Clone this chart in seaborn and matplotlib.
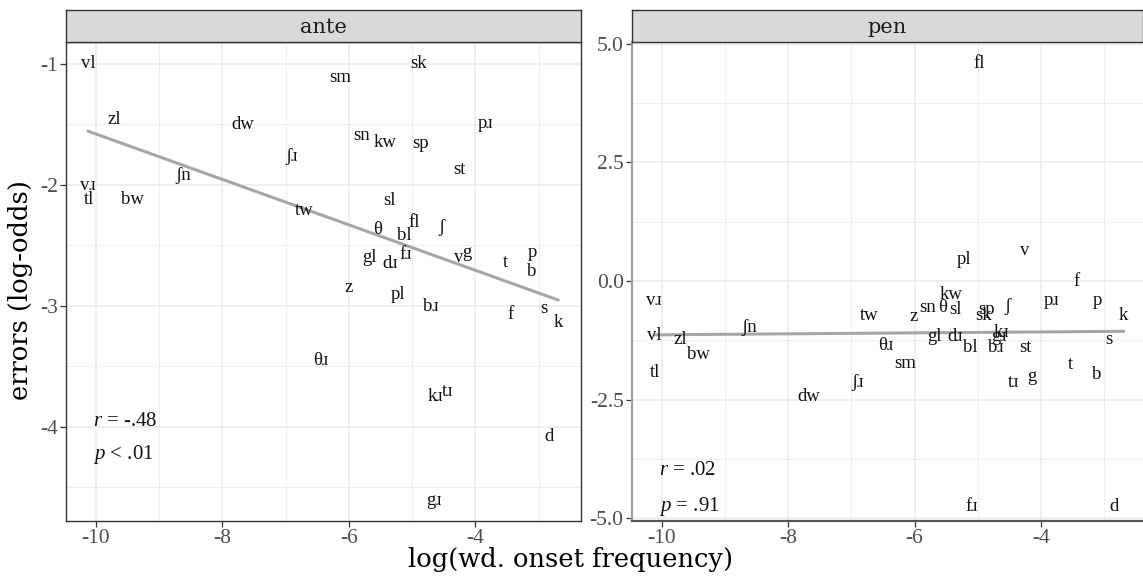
import matplotlib
matplotlib.use("Agg")
import matplotlib.pyplot as plt
from matplotlib.ticker import MultipleLocator, FixedLocator
import numpy as np
import pandas as pd
import seaborn as sns

# Onset clusters with log word-onset frequency and error rates (log-odds)
onsets = ["vl", "vɹ", "tl", "zl", "bw", "ʃn", "dw", "ʃɹ", "tw", "θɹ",
          "sm", "z", "sn", "gl", "θ", "kw", "dɹ", "sl", "pl", "bl",
          "fɹ", "fl", "sk", "sp", "bɹ", "gɹ", "kɹ", "ʃ", "tɹ", "v",
          "st", "g", "pɹ", "t", "f", "p", "b", "s", "d", "k"]
log_freq = [-10.12, -10.12, -10.10, -9.70, -9.42, -8.62, -7.67, -6.90, -6.71, -6.45,
            -6.14, -6.01, -5.80, -5.68, -5.55, -5.42, -5.35, -5.35, -5.22, -5.12,
            -5.10, -4.97, -4.90, -4.86, -4.71, -4.66, -4.63, -4.53, -4.44, -4.26,
            -4.25, -4.14, -3.84, -3.53, -3.44, -3.10, -3.11, -2.92, -2.84, -2.69]
ante_err = [-1.00, -2.01, -2.12, -1.46, -2.12, -1.92, -1.50, -1.77, -2.21, -3.45,
            -1.11, -2.85, -1.59, -2.60, -2.37, -1.65, -2.65, -2.13, -2.91, -2.42,
            -2.58, -2.31, -1.00, -1.66, -3.01, -4.61, -3.75, -2.35, -3.71, -2.60,
            -1.87, -2.56, -1.49, -2.64, -3.07, -2.56, -2.72, -3.02, -4.08, -3.14]
pen_err = [-1.14, -0.42, -1.92, -1.24, -1.54, -0.97, -2.44, -2.15, -0.72, -1.35,
           -1.73, -0.74, -0.55, -1.16, -0.55, -0.29, -1.16, -0.59, 0.46, -1.41,
           -4.76, 4.59, -0.72, -0.61, -1.41, -1.18, -1.09, -0.53, -2.13, 0.65,
           -1.41, -2.02, -0.42, -1.77, -0.02, -0.42, -1.98, -1.24, -4.76, -0.72]

panel_names = ["ante", "pen"]
stat_r = ["$r$ = -.48", "$r$ = .02"]
stat_p = ["$p$ < .01", "$p$ = .91"]

df = pd.DataFrame({"onset": onsets, "freq": log_freq,
                   "ante": ante_err, "pen": pen_err})

sns.set_theme(style="white")
plt.rcParams["font.family"] = ["Liberation Serif", "DejaVu Serif"]
plt.rcParams["mathtext.fontset"] = "custom"
plt.rcParams["mathtext.it"] = "Liberation Serif:italic"
plt.rcParams["mathtext.rm"] = "Liberation Serif"
plt.rcParams["axes.unicode_minus"] = False

wide_serif = ["DejaVu Serif"]

W, H = 1143, 576
fig = plt.figure(figsize=(W / 100, H / 100), dpi=100)
fig.patch.set_facecolor("white")


def px_axes(x0, y0, x1, y1):
    return fig.add_axes([x0 / W, 1 - y1 / H, (x1 - x0) / W, (y1 - y0) / H])


ax_l = px_axes(66, 42, 581, 521)
ax_r = px_axes(632, 42, 1143, 521)
strip_l = px_axes(66, 10, 581, 42)
strip_r = px_axes(632, 10, 1143, 42)

grid_col = "#EBEBEB"
tick_col = "#4D4D4D"

settings = [
    (ax_l, "ante", (-10.47, -2.33), (-4.78, -0.82), [-4, -3, -2, -1], 0.5, ["-4", "-3", "-2", "-1"]),
    (ax_r, "pen", (-10.47, -2.385), (-5.06, 5.04), [-5, -2.5, 0, 2.5, 5], 1.25, ["-5.0", "-2.5", "0.0", "2.5", "5.0"]),
]

for i, (ax, col, xl, yl, yt, yminor, ylabels) in enumerate(settings):
    ax.set_facecolor("white")
    ax.set_xlim(*xl)
    ax.set_ylim(*yl)
    ax.xaxis.set_major_locator(FixedLocator([-10, -8, -6, -4]))
    ax.xaxis.set_minor_locator(MultipleLocator(1))
    ax.yaxis.set_major_locator(FixedLocator(yt))
    ax.yaxis.set_minor_locator(MultipleLocator(yminor))
    ax.set_xticklabels(["-10", "-8", "-6", "-4"])
    ax.set_yticklabels(ylabels)
    ax.grid(True, which="major", color=grid_col, lw=1.1, zorder=0)
    ax.grid(True, which="minor", color=grid_col, lw=0.6, zorder=0)
    ax.set_axisbelow(True)
    ax.tick_params(axis="both", which="major", length=4, width=0.9, color="#333333",
                   labelsize=15.5, labelcolor=tick_col, pad=2, direction="out",
                   bottom=True, left=True)
    ax.tick_params(axis="both", which="minor", length=0)

    sns.regplot(data=df, x="freq", y=col, ax=ax, scatter=False, ci=None,
                line_kws={"color": "#A6A6A6", "lw": 2.2, "zorder": 2})
    ax.set_xlabel("")
    ax.set_ylabel("")

    for name, xv, yv in zip(df["onset"], df["freq"], df[col]):
        ax.text(xv, yv, name, ha="center", va="center", fontsize=13.5,
                color="#111111", zorder=3)

    # correlation statistics in the lower-left corner
    ax.text(-10.05, yl[0] + (yl[1] - yl[0]) * (0.208 if i == 0 else 0.105),
            stat_r[i], ha="left", va="center", fontsize=15, color="#111111")
    ax.text(-10.05, yl[0] + (yl[1] - yl[0]) * (0.138 if i == 0 else 0.03),
            stat_p[i], ha="left", va="center", fontsize=15, color="#111111")

# left panel: full dark border; right panel: grey axis lines only
for sp in ax_l.spines.values():
    sp.set_color("#333333")
    sp.set_linewidth(1.0)
for side in ["top", "right"]:
    ax_r.spines[side].set_visible(False)
ax_r.spines["left"].set_color("#A0A0A0")
ax_r.spines["left"].set_linewidth(1.6)
ax_r.spines["bottom"].set_color("#555555")
ax_r.spines["bottom"].set_linewidth(1.6)

for strip, name in zip([strip_l, strip_r], panel_names):
    strip.set_facecolor("#D9D9D9")
    strip.set_xticks([])
    strip.set_yticks([])
    for sp in strip.spines.values():
        sp.set_color("#333333")
        sp.set_linewidth(1.0)
    strip.text(0.5, 0.45, name, ha="center", va="center", fontsize=15,
               color="#1A1A1A", family=wide_serif, transform=strip.transAxes)

fig.text(21 / W, 1 - 290 / H, "errors (log-odds)", rotation=90, ha="center",
         va="center", fontsize=18.5, color="black", family=wide_serif)
fig.text(570 / W, 1 - 560 / H, "log(wd. onset frequency)", ha="center",
         va="center", fontsize=18.5, color="black", family=wide_serif)

fig.savefig("out.png", dpi=100, facecolor="white")
